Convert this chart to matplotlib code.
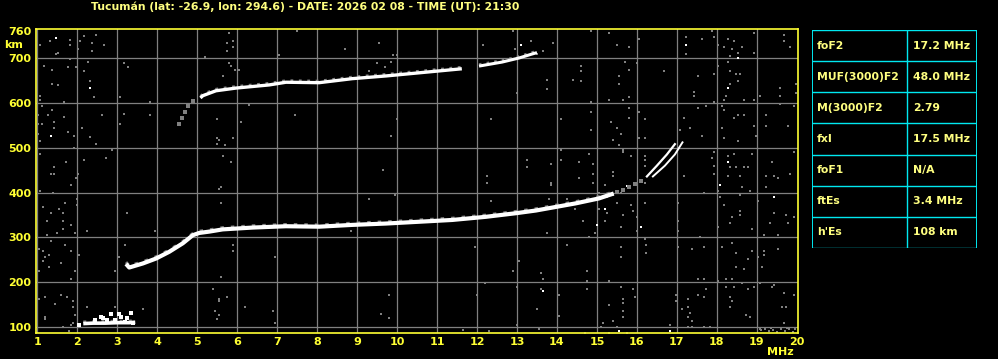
import matplotlib
matplotlib.use("Agg")
import matplotlib.pyplot as plt

# --- data ---
title = "Tucumán (lat: -26.9, lon: 294.6) - DATE: 2026 02 08 - TIME (UT): 21:30"

param_names = ["foF2", "MUF(3000)F2", "M(3000)F2", "fxI", "foF1", "ftEs", "h'Es"]
param_values = ["17.2 MHz", "48.0 MHz", "2.79", "17.5 MHz", "N/A", "3.4 MHz", "108 km"]

x_ticks = list(range(1, 21))
y_ticks = [100, 200, 300, 400, 500, 600, 700, 760]

# F2 ordinary trace
f2_f = [3.22, 3.30, 3.64, 3.97, 4.30, 4.64, 4.89, 5.05, 5.30, 5.64, 6.38, 7.22, 8.05,
        8.88, 9.72, 10.55, 11.38, 12.22, 12.97, 13.47, 13.97, 14.47, 15.05, 15.42]
f2_h = [241, 233, 242, 253, 268, 287, 305, 310, 313, 318, 322, 325, 324,
        328, 331, 335, 339, 346, 354, 360, 368, 376, 387, 398]

# cusp near foF2 / fxI
cusp_a_f = [16.25, 16.5, 16.75, 16.95]
cusp_a_h = [436, 460, 485, 508]
cusp_b_f = [16.4, 16.7, 16.95, 17.14]
cusp_b_h = [436, 460, 485, 512]

# faint link between trace and cusp
link_f = [15.5, 15.65, 15.8, 15.95, 16.1]
link_h = [401, 406, 413, 419, 426]

# second hop trace
hop_faint_f = [4.55, 4.62, 4.7, 4.78, 4.89]
hop_faint_h = [553, 566, 580, 592, 605]
hop1_f = [5.08, 5.14, 5.47, 5.97, 6.80, 7.22, 8.05, 8.88, 9.72, 10.55, 11.38, 11.62]
hop1_h = [611, 616, 627, 633, 640, 646, 645, 654, 660, 667, 674, 676]
hop2_f = [12.05, 12.63, 13.05, 13.38, 13.5]
hop2_h = [682, 691, 700, 709, 712]

# sporadic E
es_f = [2.15, 2.4, 2.7, 3.0, 3.3, 3.45]
es_h = [108, 109, 109, 110, 110, 111]
es_spk_f = [2.59, 2.84, 3.04, 3.09, 3.34, 3.24, 3.39, 2.74, 2.94, 3.19, 2.45, 2.65, 2.05]
es_spk_h = [123, 130, 130, 123, 132, 121, 110, 116, 117, 112, 115, 120, 104]

# scattered noise (gray)
noise_f = [1.08, 1.33, 1.48, 1.53, 1.83, 1.83, 2.03, 2.08, 2.18, 2.38, 2.38, 2.48, 2.68,
           1.18, 1.38, 1.78, 1.83, 1.98, 2.18, 2.28, 2.33, 2.43, 1.38, 1.53, 1.08, 1.08,
           1.68, 1.13, 1.38, 1.03, 1.28, 1.68, 1.03, 1.13, 1.43, 1.43, 1.03, 1.78, 1.93,
           2.13, 2.33, 1.08, 2.48, 1.93, 2.88, 2.73, 2.18, 1.73, 1.08, 1.43, 1.34, 1.43,
           2.03, 1.98, 3.18, 3.28, 3.08, 3.18, 3.08, 2.63, 3.83, 3.83, 5.19, 5.79, 5.74,
           5.89, 5.89, 5.74, 5.79, 5.84, 5.94, 6.04, 5.64, 7.04, 6.29, 6.09, 5.49, 5.49,
           5.54, 5.89, 5.49, 5.69, 5.64, 5.84,
           7.49, 8.69, 9.54, 9.89, 9.99, 9.84, 9.49, 9.69, 9.29, 12.89, 12.14, 13.34,
           12.95, 7.44, 9.99, 9.84, 12.34, 13.0, 9.64, 13.24, 13.24, 12.24,
           13.89, 13.64, 13.49, 14.84, 15.29, 15.49, 15.79, 16.04, 17.24, 17.24, 17.64,
           17.89, 17.94, 18.04, 18.19, 18.29, 18.44, 18.39, 18.54, 18.34, 18.64, 18.94,
           18.94, 19.69, 19.69, 19.84, 14.59, 14.59, 14.39, 14.59, 13.74, 13.74, 15.54,
           15.54, 15.79, 15.69, 15.99, 16.69, 17.54, 17.94, 18.04, 18.29, 18.34, 18.49,
           18.59, 18.34, 18.54, 18.24, 18.19, 17.44, 17.44, 17.94, 18.69, 18.94, 19.09,
           19.59, 19.59, 19.59, 19.99, 19.99, 14.84, 14.84, 15.29, 15.64, 15.79, 16.04,
           15.79, 15.79, 14.09, 14.84, 15.34, 15.49, 15.59, 15.39, 15.54, 15.64, 15.84,
           16.19, 16.04, 16.19, 16.19, 16.19, 16.19, 17.19, 17.34, 17.09, 17.54, 17.74,
           17.64, 18.14, 18.19, 18.14, 18.19, 18.54, 18.44, 18.69, 18.94, 18.99, 18.54,
           19.24, 19.24, 19.79, 19.94, 14.09, 14.09, 13.84, 14.54, 14.79, 14.89, 14.54,
           14.89, 15.39, 15.39, 15.64, 17.19, 17.94, 17.94, 17.94, 17.89, 18.29, 18.44,
           18.49, 18.34, 18.29, 18.59, 18.69, 18.79, 18.89, 19.24, 19.39, 19.44, 19.54,
           19.84, 19.94,
           1.84, 1.08, 1.39, 1.99, 1.99, 1.69, 1.54, 1.64, 1.34, 1.14, 1.24, 1.64, 1.84,
           1.64, 1.49, 1.24, 1.94, 1.34, 1.69, 1.84, 1.14, 1.04, 1.19, 1.14, 1.29, 1.29,
           1.59, 1.04, 1.94, 1.84, 2.04, 2.24, 1.19, 1.19, 1.19, 1.04, 1.59, 1.74, 1.89,
           1.89, 1.44, 2.24, 1.94, 1.89, 1.84, 1.64, 1.79, 2.94, 3.64, 3.24, 3.19, 2.94,
           3.04, 3.94, 5.59, 5.54, 5.59, 5.89, 5.89, 5.59, 5.39, 5.54, 5.54, 5.74, 5.44,
           5.54, 5.49, 6.19, 6.89, 6.94, 6.94,
           9.29, 9.94, 12.24, 12.34, 13.04, 12.89, 11.94, 12.19, 12.99, 11.99, 9.79, 9.59,
           9.79, 11.64, 12.29, 12.99, 8.84,
           13.84, 13.84, 14.89, 15.19, 15.94, 16.19, 15.59, 15.39, 15.24, 15.04, 15.04,
           15.24, 15.19, 15.64, 15.49, 15.89, 15.99, 15.99, 15.84, 16.19, 15.59, 14.94,
           14.79, 13.74, 13.79, 14.24, 14.44, 14.64, 14.24, 17.04, 17.04, 17.04, 17.59,
           17.69, 18.04, 18.09, 18.19, 18.64, 18.84, 18.59, 18.59, 18.59, 18.39, 18.34,
           18.04, 18.89, 19.24, 19.44, 19.34, 19.19, 19.54, 19.74, 19.79, 19.94, 19.04,
           16.19, 16.24, 16.24, 15.59, 15.59, 13.59, 13.64, 14.74, 14.74, 14.74, 15.29,
           15.59, 15.89, 13.59, 14.04, 15.94, 15.64, 15.64, 15.64, 15.29, 15.64, 15.39,
           15.14, 15.09, 15.49, 15.74, 15.29, 13.49, 13.54, 14.04, 14.69, 16.84, 16.99,
           16.99, 17.04, 17.14, 17.29, 17.29, 17.34, 17.39, 17.29, 17.39, 17.29, 17.54,
           17.69, 17.74, 17.69, 17.54, 17.69, 17.84, 17.39, 17.69, 18.04, 18.14, 18.24,
           18.24, 18.39, 18.44, 18.49, 18.69, 18.79, 18.89, 19.04, 19.19, 19.19, 19.54,
           19.14, 18.49, 18.39, 18.64, 18.79, 18.94, 19.09, 19.39, 19.44, 19.69, 19.94,
           18.34, 18.39, 18.34, 18.74, 18.84, 19.64, 19.74, 19.69, 19.09,
           19.1, 19.2, 19.3, 19.4, 19.5, 19.6, 19.7, 19.8, 19.9, 19.95, 19.35, 19.75]
noise_h = [730, 738, 709, 711, 741, 730, 720, 738, 749, 734, 716, 752, 730,
           683, 674, 679, 698, 679, 672, 692, 648, 612, 643, 639, 616, 607,
           603, 594, 585, 572, 572, 569, 554, 554, 558, 545, 530, 536, 527,
           545, 524, 514, 509, 500, 496, 478, 473, 469, 487, 456, 442, 442,
           442, 433, 688, 679, 612, 576, 554, 572, 603, 572, 702, 756, 734,
           738, 725, 716, 688, 683, 674, 674, 661, 707, 595, 558, 563, 522,
           518, 522, 509, 505, 482, 469,
           761, 720, 734, 707, 707, 692, 688, 679, 670, 761, 728, 738,
           720, 572, 563, 527, 563, 621, 451, 473, 456, 438,
           734, 716, 710, 761, 756, 729, 725, 743, 747, 710, 743,
           761, 747, 728, 725, 743, 738, 720, 711, 705, 725, 756,
           711, 752, 738, 725, 683, 670, 652, 648, 652, 630, 661,
           643, 674, 692, 688, 670, 661, 665, 683, 692, 670, 665,
           665, 643, 648, 616, 607, 625, 616, 603, 607, 607, 616,
           634, 616, 598, 641, 621, 603, 580, 607, 607, 612, 580,
           589, 567, 563, 540, 558, 545, 531, 518, 505, 491, 482,
           563, 522, 522, 482, 473, 460, 567, 545, 540, 589, 594,
           527, 594, 585, 545, 522, 572, 567, 572, 549, 527, 514,
           572, 549, 549, 594, 496, 473, 464, 469, 487, 464, 433,
           442, 447, 438, 496, 438, 491, 460, 442, 478, 482, 487,
           456, 456, 438, 438, 456, 456, 487, 438, 469, 438, 433,
           442, 491,
           418, 404, 400, 386, 373, 377, 364, 355, 355, 368, 337, 337, 328,
           319, 310, 306, 310, 293, 284, 270, 270, 275, 257, 248, 261, 235,
           244, 226, 226, 208, 261, 315, 168, 123, 118, 163, 172, 168, 159,
           145, 151, 145, 127, 110, 105, 101, 92, 145, 141, 355, 284, 226,
           257, 315, 413, 409, 377, 284, 270, 212, 185, 163, 159, 168, 136,
           127, 118, 145, 136, 110, 257,
           386, 395, 422, 382, 248, 226, 279, 199, 190, 172, 172, 129,
           121, 93, 92, 105, 315,
           422, 418, 421, 416, 416, 422, 400, 395, 391, 400, 364,
           355, 337, 351, 377, 360, 346, 315, 373, 377, 324, 310,
           301, 310, 386, 386, 364, 337, 284, 377, 337, 315, 301,
           400, 404, 391, 373, 413, 404, 395, 360, 351, 346, 333,
           324, 319, 413, 355, 333, 306, 306, 351, 333, 346, 382,
           297, 284, 266, 279, 257, 221, 208, 226, 203, 185, 203,
           190, 185, 185, 172, 168, 163, 154, 136, 150, 123, 114,
           110, 101, 101, 87, 87, 141, 96, 126, 87, 105, 172,
           159, 279, 141, 163, 145, 132, 114, 123, 101, 101, 208,
           208, 185, 168, 172, 101, 101, 275, 279, 203, 279, 208,
           190, 208, 190, 235, 230, 252, 270, 257, 270, 261, 275,
           235, 266, 288, 199, 185, 190, 199, 190, 194, 176, 172,
           168, 159, 145, 127, 123, 145, 145, 110, 96,
           93, 95, 91, 94, 90, 96, 92, 95, 90, 97, 98, 99]

# isolated bright specks (white)
bright_f = [1.48, 2.33, 1.34, 13.09, 17.24, 18.54, 18.29, 18.29, 15.74, 15.19, 14.99,
            16.09, 18.09, 19.44, 13.64, 15.54, 16.84]
bright_h = [744, 633, 527, 729, 729, 700, 634, 469, 415, 364, 328,
            324, 418, 391, 181, 92, 92]

YELLOW = "#ffff33"
PALE = "#ffff80"
GRAY = "#808080"
CYAN = "#00e8f0"

W, H = 998, 359
fig = plt.figure(figsize=(W / 100, H / 100), dpi=100, facecolor="black")
ax = fig.add_axes([35.7 / W, (H - 333) / H, (798 - 35.7) / W, (333 - 29.3) / H])
ax.set_facecolor("black")
ax.set_xlim(0.96, 20.03)
ax.set_ylim(87, 764)

# grid
for f in range(1, 20):
    ax.axvline(f, color=GRAY, lw=0.9, zorder=1)
for h in range(100, 701, 100):
    ax.axhline(h, color=GRAY, lw=0.9, zorder=1)

# noise
ax.scatter(noise_f, noise_h, s=3.5, marker="s", color=GRAY, linewidths=0, zorder=2)
ax.scatter(bright_f, bright_h, s=3.5, marker="s", color="white", linewidths=0, zorder=2)


def trace(f, h, lw=2.6):
    # speckled gray fringe above the echo, then the solid echo
    ax.plot(f, [v + 4 for v in h], color=GRAY, lw=lw * 0.7, dashes=(1.2, 2.4),
            solid_capstyle="butt", zorder=3)
    ax.plot(f, h, color="white", lw=lw, solid_capstyle="butt", zorder=4)


trace(f2_f, f2_h, 3.0)
trace(hop1_f, hop1_h, 2.4)
trace(hop2_f, hop2_h, 2.2)
trace(es_f, es_h, 2.6)
ax.plot(cusp_a_f, cusp_a_h, color="white", lw=1.6, zorder=4)
ax.plot(cusp_b_f, cusp_b_h, color="white", lw=1.4, zorder=4)
ax.scatter(link_f, link_h, s=5, marker="s", color=GRAY, linewidths=0, zorder=3)
ax.scatter(hop_faint_f, hop_faint_h, s=6, marker="s", color=GRAY, linewidths=0, zorder=3)
ax.scatter(es_spk_f, es_spk_h, s=6, marker="s", color="white", linewidths=0, zorder=4)

# axes styling
for sp in ax.spines.values():
    sp.set_color(YELLOW)
    sp.set_linewidth(1.2)
ax.set_xticks(x_ticks)
ax.set_xticklabels([str(t) for t in x_ticks])
ax.set_yticks(y_ticks)
ax.set_yticklabels([str(t) for t in y_ticks])
ax.tick_params(length=0, colors=YELLOW, labelsize=8)
ax.tick_params(axis="x", pad=3)
ax.tick_params(axis="y", pad=3)
for lab in ax.get_xticklabels() + ax.get_yticklabels():
    lab.set_fontweight("bold")

fig.text(13.5 / W, 1 - 45 / H, "km", color=YELLOW, fontsize=8, fontweight="bold",
         ha="center", va="center")
fig.text(780 / W, 1 - 352 / H, "MHz", color=YELLOW, fontsize=8, fontweight="bold",
         ha="center", va="center")
fig.text(91 / W, 1 - 7 / H, title, color=PALE, fontsize=7.8, fontweight="bold",
         ha="left", va="center")

# parameter table
tx = fig.add_axes([812 / W, (H - 248) / H, 165 / W, 218 / H])
tx.set_xlim(0, 165)
tx.set_ylim(len(param_names), 0)
tx.axis("off")
for i in range(len(param_names) + 1):
    tx.axhline(i, color=CYAN, lw=1)
tx.axvline(0, color=CYAN, lw=1.4)
tx.axvline(165, color=CYAN, lw=1.4)
tx.axvline(95, color=CYAN, lw=1)
for i, (name, val) in enumerate(zip(param_names, param_values)):
    tx.text(5, i + 0.5, name, color=PALE, fontsize=7.8, fontweight="bold", va="center")
    tx.text(101, i + 0.5, val, color=PALE, fontsize=7.8, fontweight="bold", va="center")

fig.savefig("out.png", dpi=100, facecolor="black")
